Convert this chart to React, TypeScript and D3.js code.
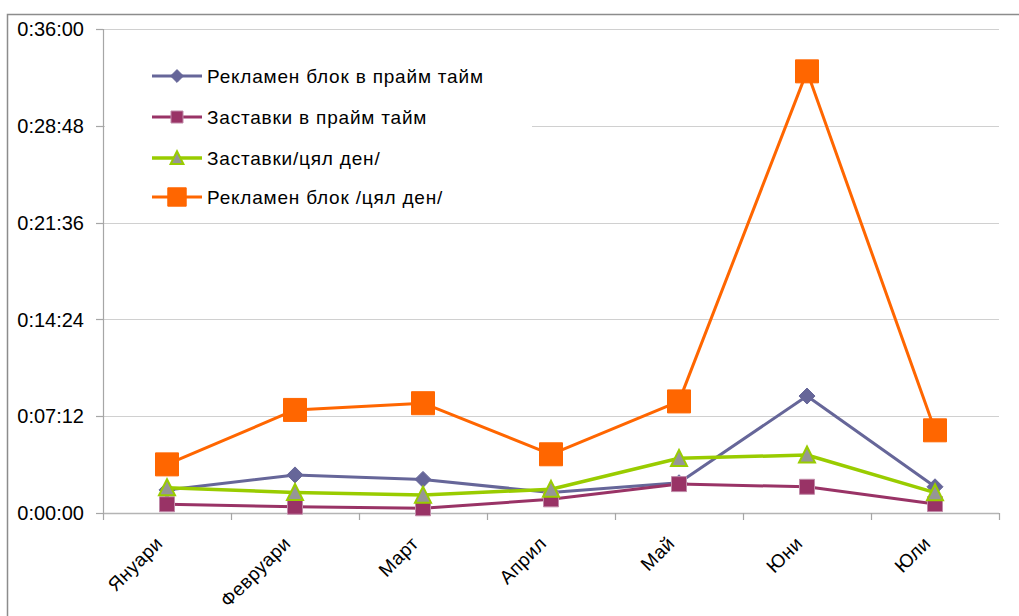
import React, { useEffect, useRef } from "react";
import * as d3 from "d3";

const categories = ["Януари", "Февруари", "Март", "Април", "Май", "Юни", "Юли"];
const seriesNames = [
  "Рекламен блок в прайм тайм",
  "Заставки в прайм тайм",
  "Заставки/цял ден/",
  "Рекламен блок /цял ден/",
];
// values in seconds
const reklamaPrime = [103, 170, 150, 91, 135, 522, 117];
const zastavkiPrime = [39, 28, 21, 61, 129, 117, 40];
const zastavkiDay = [113, 92, 80, 106, 244, 259, 91];
const reklamaDay = [217, 460, 490, 262, 498, 1971, 369];
const yTicks = [0, 432, 864, 1296, 1728, 2160];

const W = 1019;
const H = 616;

function fmt(s: number) {
  const h = Math.floor(s / 3600);
  const m = Math.floor((s % 3600) / 60);
  const sec = s % 60;
  return `${h}:${String(m).padStart(2, "0")}:${String(sec).padStart(2, "0")}`;
}

export default function App() {
  const ref = useRef<SVGSVGElement>(null);
  useEffect(() => {
    const svg = d3.select(ref.current);
    svg.selectAll("*").remove();
    const left = 103, right = 999, top = 29, bottom = 513;
    const font = "'Liberation Sans', Arial, sans-serif";

    svg.append("rect").attr("x", 7.5).attr("y", 14.5).attr("width", 1030).attr("height", 640)
      .attr("fill", "white").attr("stroke", "#8c8c8c").attr("stroke-width", 1.5);

    const x = d3.scaleBand().domain(categories).range([left, right]).padding(0);
    const y = d3.scaleLinear().domain([0, 2160]).range([bottom, top]);

    // gridlines
    svg.append("g").selectAll("line").data(yTicks.slice(1)).join("line")
      .attr("x1", left).attr("x2", right)
      .attr("y1", (d) => Math.round(y(d)) + 0.5).attr("y2", (d) => Math.round(y(d)) + 0.5)
      .attr("stroke", "#d0d0d0").attr("stroke-width", 1.2);

    // legend background box
    svg.append("rect").attr("x", left + 2).attr("y", 45).attr("width", 427).attr("height", 170).attr("fill", "white");

    // y axis
    const yAxis = svg.append("g");
    yAxis.append("line").attr("x1", left + 0.5).attr("x2", left + 0.5).attr("y1", top).attr("y2", bottom)
      .attr("stroke", "#a6a6a6").attr("stroke-width", 1.2);
    yAxis.selectAll("line.t").data(yTicks).join("line").attr("class", "t")
      .attr("x1", left - 7).attr("x2", left)
      .attr("y1", (d) => Math.round(y(d)) + 0.5).attr("y2", (d) => Math.round(y(d)) + 0.5)
      .attr("stroke", "#a6a6a6").attr("stroke-width", 1.2);
    yAxis.selectAll("text").data(yTicks).join("text")
      .attr("x", 84).attr("y", (d) => y(d)).attr("dy", "0.36em")
      .attr("text-anchor", "end").attr("font-family", font).attr("font-size", 20).attr("fill", "#000")
      .text((d) => fmt(d));

    // x axis
    const bounds = categories.map((c) => x(c)!).concat([right]);
    svg.append("line").attr("x1", left).attr("x2", right).attr("y1", bottom + 0.5).attr("y2", bottom + 0.5)
      .attr("stroke", "#b4b4b4").attr("stroke-width", 1.6);
    svg.append("g").selectAll("line").data(bounds).join("line")
      .attr("x1", (d) => d + 0.5).attr("x2", (d) => d + 0.5).attr("y1", bottom).attr("y2", bottom + 7)
      .attr("stroke", "#a6a6a6").attr("stroke-width", 1.2);
    svg.append("g").selectAll("text").data(categories).join("text")
      .attr("transform", (d) => `translate(${x(d)! + x.bandwidth() / 2 - 8},${bottom + 27}) rotate(-45)`)
      .attr("text-anchor", "end").attr("dy", "0.35em")
      .attr("font-family", font).attr("font-size", 19).attr("letter-spacing", 0.4).attr("fill", "#000")
      .text((d) => d);

    const cx = (i: number) => x(categories[i])! + x.bandwidth() / 2;

    type Marker = "diamond" | "square" | "triangle" | "bigsquare";
    const series: { name: string; values: number[]; color: string; marker: Marker; fill: string; stroke: string }[] = [
      { name: seriesNames[0], values: reklamaPrime, color: "#666699", marker: "diamond", fill: "#666699", stroke: "#666699" },
      { name: seriesNames[1], values: zastavkiPrime, color: "#993366", marker: "square", fill: "#993366", stroke: "#c08aa8" },
      { name: seriesNames[2], values: zastavkiDay, color: "#99cc00", marker: "triangle", fill: "#969696", stroke: "#99cc00" },
      { name: seriesNames[3], values: reklamaDay, color: "#ff6600", marker: "bigsquare", fill: "#ff6600", stroke: "#ff6600" },
    ];

    const markerPath = (m: Marker, scale: number) => {
      if (m === "diamond") {
        const r = 8 * scale;
        return `M0,${-r}L${r},0L0,${r}L${-r},0Z`;
      }
      if (m === "square") {
        const r = 7.5 * scale;
        return `M${-r},${-r}H${r}V${r}H${-r}Z`;
      }
      if (m === "triangle") {
        const r = 8 * scale;
        return `M0,${-r * 1.05}L${r},${r * 0.95}L${-r},${r * 0.95}Z`;
      }
      const r = 11.5 * scale;
      return `M${-r},${-r}H${r}V${r}H${-r}Z`;
    };

    const line = d3.line<number>().x((_, i) => cx(i)).y((d) => y(d));

    series.forEach((s) => {
      const g = svg.append("g");
      g.append("path").attr("d", line(s.values)!).attr("fill", "none")
        .attr("stroke", s.color).attr("stroke-width", s.marker === "triangle" ? 3.5 : 3)
        .attr("stroke-linejoin", "round");
      g.selectAll("path.m").data(s.values).join("path").attr("class", "m")
        .attr("transform", (d, i) => `translate(${cx(i)},${y(d)})`)
        .attr("d", markerPath(s.marker, 1))
        .attr("fill", s.fill).attr("stroke", s.stroke).attr("stroke-width", s.marker === "triangle" ? 2 : 1);
    });

    // legend
    const lg = svg.append("g");
    const rows = [76, 117, 158, 197];
    series.forEach((s, i) => {
      const ly = rows[i];
      lg.append("line").attr("x1", 152).attr("x2", 202).attr("y1", ly).attr("y2", ly)
        .attr("stroke", s.color).attr("stroke-width", s.marker === "triangle" ? 3.5 : 3);
      lg.append("path").attr("transform", `translate(177,${ly})`).attr("d", markerPath(s.marker, 0.8))
        .attr("fill", s.fill).attr("stroke", s.stroke).attr("stroke-width", s.marker === "triangle" ? 2 : 1);
      lg.append("text").attr("x", 207).attr("y", ly).attr("dy", "0.36em")
        .attr("font-family", font).attr("font-size", 19).attr("letter-spacing", 0.8).attr("fill", "#000").text(s.name);
    });
  }, []);
  return (
    <svg ref={ref} width={W} height={H} style={{ position: "absolute", left: 0, top: 0, background: "white" }} />
  );
}
